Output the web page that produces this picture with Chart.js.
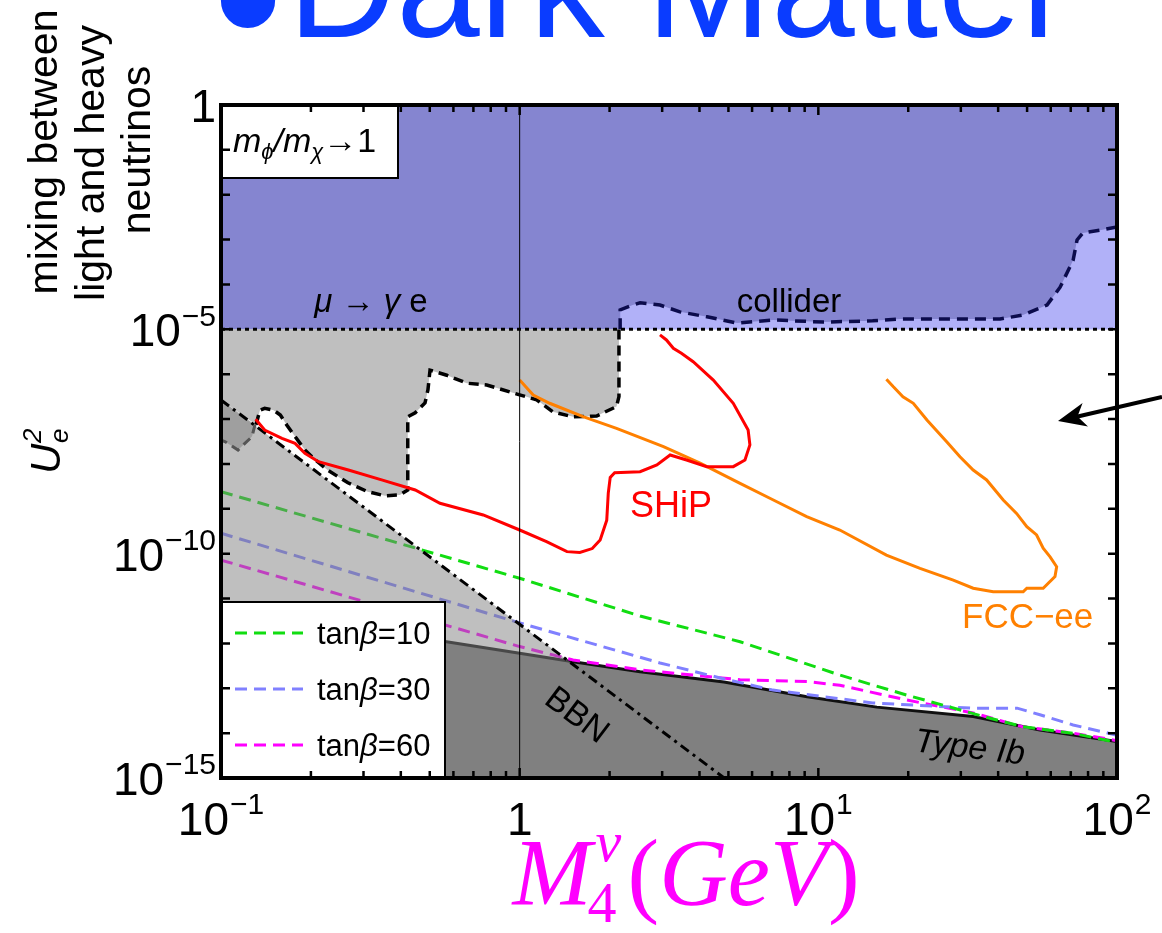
<!DOCTYPE html>
<html>
<head>
<meta charset="utf-8">
<script src="https://cdn.jsdelivr.net/npm/chart.js@4.4.0/dist/chart.umd.min.js"></script>
<style>
  html, body { margin: 0; padding: 0; background: #fff; }
  #wrap { width: 1162px; height: 933px; position: relative; }
</style>
</head>
<body>
<div id="wrap"><canvas id="chart" width="1162" height="933"></canvas></div>
<script>
// axis ticks
const xTicks = [0.1, 1, 10, 100];
const xTickLabels = [['10', '−1'], ['1', ''], ['10', '1'], ['10', '2']];
const yTicks = [1, 1e-5, 1e-10, 1e-15];
const yTickLabels = [['1', ''], ['10', '−5'], ['10', '−10'], ['10', '−15']];

// curves as [M4 (GeV), U_e^2]
const muGammaE = [[0.1, 1e-5], [100, 1e-5]];
const xOneLine = [[1, 1e-15], [1, 1]];
const bbnLine = [[0.1, 2.66e-7], [4.84, 1e-15]];

const colliderBound = [[2.17, 1e-5], [2.17, 2.7e-5], [2.39, 3.47e-5], [2.53, 3.9e-5], [2.95, 3.47e-5],
  [3.44, 2.45e-5], [4.24, 1.9e-5], [5.34, 1.38e-5], [7.05, 1.62e-5], [10.4, 1.45e-5], [15.2, 1.55e-5],
  [18.8, 1.7e-5], [40.6, 1.7e-5], [48.4, 2.09e-5], [58.3, 3.47e-5], [64.5, 8.7e-5], [71.3, 3.47e-4],
  [73.5, 9.8e-4], [76.9, 1.41e-3], [87.7, 1.62e-3], [100, 1.9e-3]];

// dashed edge of the grey excluded region
const greyBound = [[0.131, 7.5e-8], [0.135, 1.58e-7], [0.140, 1.74e-7], [0.150, 1.58e-7], [0.158, 1.23e-7],
  [0.166, 7.4e-8], [0.177, 4.07e-8], [0.191, 2.04e-8], [0.207, 1.23e-8], [0.228, 7.2e-9], [0.266, 3.8e-9],
  [0.310, 2.4e-9], [0.354, 1.95e-9], [0.397, 2.04e-9], [0.422, 2.63e-9], [0.422, 1.12e-7], [0.447, 1.38e-7],
  [0.482, 2.29e-7], [0.493, 4.47e-7], [0.501, 1.23e-6], [0.570, 9.5e-7], [0.665, 6.3e-7], [0.776, 5.75e-7],
  [1.0, 3.47e-7], [1.14, 2.69e-7], [1.29, 1.45e-7], [1.51, 1.12e-7], [1.81, 1.17e-7], [2.11, 1.9e-7],
  [2.15, 3.16e-7], [2.15, 1e-5]];

const greyPatch = [[0.1, 2.66e-7], [0.130, 7.5e-8], [0.127, 4.07e-8], [0.114, 2.04e-8], [0.103, 3.16e-8],
  [0.1, 3.4e-8], [0.1, 2.66e-7]];
const greyPatchEdge = [[0.130, 7.5e-8], [0.127, 4.07e-8], [0.114, 2.04e-8], [0.103, 3.16e-8], [0.1, 3.4e-8]];

const typeIb = [[0.1, 6.5e-12], [0.562, 1.1e-12], [1, 6.0e-13], [1.51, 3.9e-13], [2.53, 2.34e-13],
  [4.83, 1.38e-13], [9.17, 6.5e-14], [15.7, 3.8e-14], [33, 2.34e-14], [55.2, 1.17e-14], [100, 6.5e-15]];

const tan10 = [[0.1, 2.41e-9], [1, 2.83e-11], [2.53, 4.08e-12], [5.47, 1.09e-12], [11.8, 1.97e-13],
  [19.7, 7.1e-14], [37.6, 2.14e-14], [48.4, 1.39e-14], [71.3, 9.9e-15], [100, 6.2e-15]];
const tan30 = [[0.1, 2.85e-10], [1, 2.86e-12], [2.95, 3.67e-13], [4.69, 1.7e-13], [7.05, 9.1e-14],
  [15.2, 4.7e-14], [33, 3.6e-14], [46.3, 3.6e-14], [55.2, 2.57e-14], [71.3, 1.52e-14], [100, 9.0e-15]];
const tan60 = [[0.1, 7.2e-11], [1, 8.5e-13], [1.51, 4.27e-13], [2.53, 2.57e-13], [5.47, 1.55e-13],
  [9.17, 1.41e-13], [11.8, 1.17e-13], [19.7, 5.5e-14], [33, 2.82e-14], [48.4, 1.38e-14], [71.3, 1.0e-14],
  [100, 6.8e-15]];
const tanBeta = ['10', '30', '60'];
const tanColors = ['#11dd11', '#8080ff', '#ff00ff'];

const ship = [[0.1306, 9.9e-8], [0.140, 5.7e-8], [0.160, 3.73e-8], [0.177, 2.88e-8], [0.191, 1.73e-8],
  [0.212, 1.12e-8], [0.267, 7.3e-9], [0.345, 4.4e-9], [0.447, 2.63e-9], [0.541, 1.33e-9], [0.755, 7.3e-10],
  [1.0, 3.37e-10], [1.23, 1.85e-10], [1.44, 1.11e-10], [1.59, 1.06e-10], [1.75, 1.3e-10], [1.86, 2.02e-10],
  [1.957, 5.6e-10], [1.98, 2.23e-9], [2.01, 5.0e-9], [2.08, 6.4e-9], [2.53, 6.7e-9], [2.88, 9.5e-9],
  [3.19, 1.58e-8], [3.62, 1.22e-8], [4.23, 8.7e-9], [5.19, 8.7e-9], [5.68, 1.22e-8], [5.90, 2.65e-8],
  [5.82, 5.7e-8], [5.19, 2.25e-7], [4.45, 7.4e-7], [3.81, 1.9e-6], [3.48, 2.92e-6], [3.27, 3.78e-6],
  [3.10, 5.8e-6], [2.95, 7.5e-6]];

const fccee = [[1.0, 7.4e-7], [1.11, 3.44e-7], [1.26, 2.25e-7], [1.63, 1.13e-7], [2.11, 6.2e-8],
  [3.03, 2.43e-8], [4.02, 1.04e-8], [5.47, 3.7e-9], [7.07, 1.57e-9], [9.14, 6.7e-10], [11.8, 3.37e-10],
  [16.9, 9.3e-11], [21.9, 4.7e-11], [28.3, 2.57e-11], [33.0, 1.7e-11], [38.5, 1.41e-11], [48.5, 1.41e-11],
  [49.9, 1.7e-11], [56.6, 1.7e-11], [62.0, 3.09e-11], [62.8, 5.1e-11], [59.7, 8.5e-11], [56.6, 1.32e-10],
  [53.8, 2.61e-10], [49.9, 4.0e-10], [46.1, 7.9e-10], [41.6, 1.57e-9], [36.6, 4.4e-9], [33.0, 7.3e-9],
  [29.8, 1.45e-8], [26.9, 3.13e-8], [23.1, 9.5e-8], [20.8, 2.25e-7], [19.2, 3.15e-7], [17.8, 5.3e-7],
  [16.9, 7.7e-7]];

const SANS = '"Liberation Sans", Arial, sans-serif';
const SERIF = '"Liberation Serif", "DejaVu Serif", serif';
const GREY = 'rgba(128,128,128,0.5)';

const pts = arr => arr.map(([x, y]) => ({ x, y }));
const curve = (data, o) => Object.assign({ data: pts(data), pointRadius: 0, borderWidth: 0, fill: false, tension: 0 }, o);

function font(size, italic, fam) {
  return (italic ? 'italic ' : '') + size + 'px ' + (fam || SANS);
}
// text runs: [text, size, italic, dy]
function runsWidth(ctx, parts, fam) {
  let w = 0;
  for (const [t, s, it] of parts) { ctx.font = font(s, it, fam); w += ctx.measureText(t).width; }
  return w;
}
function runs(ctx, parts, x, y, fam) {
  for (const [t, s, it, dy] of parts) {
    ctx.font = font(s, it, fam);
    ctx.fillText(t, x, y + (dy || 0));
    x += ctx.measureText(t).width;
  }
  return x;
}
function powLabel(ctx, base, exp, x, y, size, align) {
  const es = Math.round(size * 0.66);
  ctx.font = font(size); const wb = ctx.measureText(base).width;
  ctx.font = font(es); const we = exp ? ctx.measureText(exp).width + 1 : 0;
  const x0 = align === 'right' ? x - wb - we : x - (wb + we) / 2;
  ctx.font = font(size); ctx.fillText(base, x0, y);
  if (exp) { ctx.font = font(es); ctx.fillText(exp, x0 + wb + 1, y - size * 0.45); }
}

const decor = {
  id: 'decor',
  afterDraw(chart) {
    const { ctx, chartArea: a, scales } = chart;
    const sx = scales.x, sy = scales.y;
    ctx.save();
    ctx.textAlign = 'left';
    ctx.textBaseline = 'alphabetic';

    // legend box
    const lx = a.left, ly = a.bottom - 176;
    ctx.fillStyle = '#fff'; ctx.fillRect(lx, ly, 224, 176);
    ctx.strokeStyle = '#000'; ctx.lineWidth = 2; ctx.strokeRect(lx, ly, 224, 176);
    tanBeta.forEach((tb, i) => {
      const yy = ly + 31 + i * 56;
      ctx.strokeStyle = tanColors[i]; ctx.lineWidth = 3; ctx.setLineDash([12, 7]);
      ctx.beginPath(); ctx.moveTo(lx + 14, yy); ctx.lineTo(lx + 82, yy); ctx.stroke();
      ctx.setLineDash([]);
      ctx.fillStyle = '#000';
      runs(ctx, [['tan', 31], ['β', 31, true], ['=' + tb, 31]], lx + 96, yy + 11);
    });

    // ratio box
    ctx.fillStyle = '#fff'; ctx.fillRect(a.left, a.top, 177, 73);
    ctx.strokeStyle = '#000'; ctx.lineWidth = 2; ctx.strokeRect(a.left, a.top, 177, 73);
    ctx.fillStyle = '#000';
    runs(ctx, [['m', 34, true], ['ϕ', 22, true, 7], ['/', 34, true], ['m', 34, true], ['χ', 22, true, 7], ['→1', 34]],
      a.left + 12, a.top + 47);

    // region labels
    const mg = [['μ', 33, true], [' → ', 33], ['γ', 33, true], [' e', 33]];
    runs(ctx, mg, 371 - runsWidth(ctx, mg) / 2, 312);
    ctx.font = font(33); ctx.textAlign = 'center';
    ctx.fillText('collider', 789, 312);
    ctx.fillStyle = '#ff0000'; ctx.font = font(36); ctx.textAlign = 'left';
    ctx.fillText('SHiP', 630, 517);
    ctx.fillStyle = '#ff8000'; ctx.font = font(35);
    ctx.fillText('FCC−ee', 962, 628);
    ctx.fillStyle = '#000'; ctx.textAlign = 'center';
    ctx.save(); ctx.translate(578, 714); ctx.rotate(37 * Math.PI / 180);
    ctx.font = font(34); ctx.fillText('BBN', 0, 12); ctx.restore();
    ctx.save(); ctx.translate(970, 746); ctx.rotate(7 * Math.PI / 180);
    ctx.font = font(34, true); ctx.fillText('Type Ib', 0, 12); ctx.restore();
    ctx.textAlign = 'left';

    // arrow from outside the frame
    const tipX = a.right - 59, tipY = a.top + 316, tailX = 1162, tailY = tipY - 24;
    const dx = tipX - tailX, dy = tipY - tailY, len = Math.hypot(dx, dy);
    const ux = dx / len, uy = dy / len;
    ctx.strokeStyle = '#000'; ctx.lineWidth = 4;
    ctx.beginPath(); ctx.moveTo(tailX, tailY); ctx.lineTo(tipX - ux * 18, tipY - uy * 18); ctx.stroke();
    const bx = tipX - ux * 28, by = tipY - uy * 28;
    ctx.beginPath();
    ctx.moveTo(tipX, tipY);
    ctx.lineTo(bx - uy * 12, by + ux * 12);
    ctx.lineTo(tipX - ux * 20, tipY - uy * 20);
    ctx.lineTo(bx + uy * 12, by - ux * 12);
    ctx.closePath(); ctx.fillStyle = '#000'; ctx.fill();

    // inward ticks
    ctx.strokeStyle = '#000'; ctx.lineWidth = 2.5;
    ctx.beginPath();
    for (let e = -14; e <= -1; e++) {
      const py = sy.getPixelForValue(Math.pow(10, e));
      ctx.moveTo(a.left, py); ctx.lineTo(a.left + 9, py);
      ctx.moveTo(a.right, py); ctx.lineTo(a.right - 9, py);
    }
    for (const d of [0.1, 1, 10]) {
      for (let m = 1; m <= 9; m++) {
        if (d === 0.1 && m === 1) continue;
        const px = sx.getPixelForValue(m * d), L = m === 1 ? 10 : 7;
        ctx.moveTo(px, a.bottom); ctx.lineTo(px, a.bottom - L);
        ctx.moveTo(px, a.top); ctx.lineTo(px, a.top + L);
      }
    }
    ctx.stroke();
    ctx.lineWidth = 4;
    ctx.strokeRect(a.left, a.top, a.right - a.left, a.bottom - a.top);

    // tick labels
    ctx.fillStyle = '#000';
    yTicks.forEach((v, i) => powLabel(ctx, yTickLabels[i][0], yTickLabels[i][1], a.left - 5, sy.getPixelForValue(v) + 17, 46, 'right'));
    xTicks.forEach((v, i) => powLabel(ctx, xTickLabels[i][0], xTickLabels[i][1], sx.getPixelForValue(v), a.bottom + 57, 46, 'center'));

    // y titles
    ctx.textAlign = 'center';
    [['mixing between', 57, 152], ['light and heavy', 104, 163], ['neutrinos', 150, 150]].forEach(([t, bx2, cy]) => {
      ctx.save(); ctx.translate(bx2, cy); ctx.rotate(-Math.PI / 2);
      ctx.font = font(41); ctx.fillText(t, 0, 0); ctx.restore();
    });
    ctx.save(); ctx.translate(60, 452); ctx.rotate(-Math.PI / 2);
    ctx.textAlign = 'left';
    ctx.font = font(42, true); ctx.fillText('U', -22, 0);
    ctx.font = font(26, true); ctx.fillText('e', 9, 8); ctx.fillText('2', 9, -19);
    ctx.restore();

    // x title
    ctx.fillStyle = '#ff00ff'; ctx.textAlign = 'left';
    const xb = 905;
    ctx.font = font(95, true, SERIF);
    const wM = ctx.measureText('M').width;
    const rest = [['(', 95], ['GeV', 95, true], [')', 95]];
    const total = wM + 36 + runsWidth(ctx, rest, SERIF);
    const cx = 686 - total / 2;
    ctx.font = font(95, true, SERIF); ctx.fillText('M', cx, xb);
    ctx.font = font(58, true, SERIF); ctx.fillText('ν', cx + wM + 4, xb - 44);
    ctx.font = font(58, false, SERIF); ctx.fillText('4', cx + wM - 4, xb + 17);
    runs(ctx, rest, cx + wM + 36, xb, SERIF);

    // page title, clipped by the top edge
    ctx.fillStyle = '#0a3cff';
    ctx.font = font(200);
    ctx.fillText('•', 213, 67);
    ctx.font = font(150);
    ctx.fillText('Dark Matter', 288, 37);
    ctx.restore();
  }
};

new Chart(document.getElementById('chart'), {
  type: 'line',
  data: {
    datasets: [
      curve(muGammaE, { order: 100, fill: 'end', backgroundColor: '#8585d0' }),
      curve(colliderBound, { order: 90, fill: { value: 1e-5 }, backgroundColor: '#b1b1f8', borderColor: '#0c0c4c', borderWidth: 3.5, borderDash: [11, 7] }),
      curve(typeIb, { order: 80, fill: 'start', backgroundColor: '#808080', borderColor: '#111', borderWidth: 3 }),
      curve(tan60, { order: 72, borderColor: tanColors[2], borderWidth: 3, borderDash: [12, 7] }),
      curve(tan30, { order: 71, borderColor: tanColors[1], borderWidth: 3, borderDash: [12, 7] }),
      curve(tan10, { order: 70, borderColor: tanColors[0], borderWidth: 3, borderDash: [12, 7] }),
      curve(bbnLine, { order: 60, fill: 'start', backgroundColor: GREY }),
      curve([bbnLine[0], ...greyBound], { order: 59, fill: { value: 1e-5 }, backgroundColor: GREY }),
      curve(greyPatch, { order: 58, fill: 'shape', backgroundColor: GREY }),
      curve(greyPatchEdge, { order: 50, borderColor: '#555', borderWidth: 3, borderDash: [9, 6] }),
      curve(greyBound, { order: 49, borderColor: '#000', borderWidth: 3.5, borderDash: [10, 6] }),
      curve(bbnLine, { order: 48, borderColor: '#000', borderWidth: 3, borderDash: [10, 5, 3, 5] }),
      curve(muGammaE, { order: 47, borderColor: '#000', borderWidth: 3, borderDash: [4, 4] }),
      curve(fccee, { order: 41, borderColor: '#ff8000', borderWidth: 3 }),
      curve(ship, { order: 40, borderColor: '#ff0000', borderWidth: 3 }),
      curve(xOneLine, { order: 30, borderColor: '#000', borderWidth: 1 })
    ]
  },
  options: {
    responsive: false,
    animation: false,
    devicePixelRatio: 1,
    layout: { padding: { left: 221, top: 105, right: 45, bottom: 155 } },
    scales: {
      x: { type: 'logarithmic', min: 0.1, max: 100, display: false },
      y: { type: 'logarithmic', min: 1e-15, max: 1, display: false }
    },
    plugins: { legend: { display: false }, tooltip: { enabled: false } }
  },
  plugins: [decor]
});
</script>
</body>
</html>
